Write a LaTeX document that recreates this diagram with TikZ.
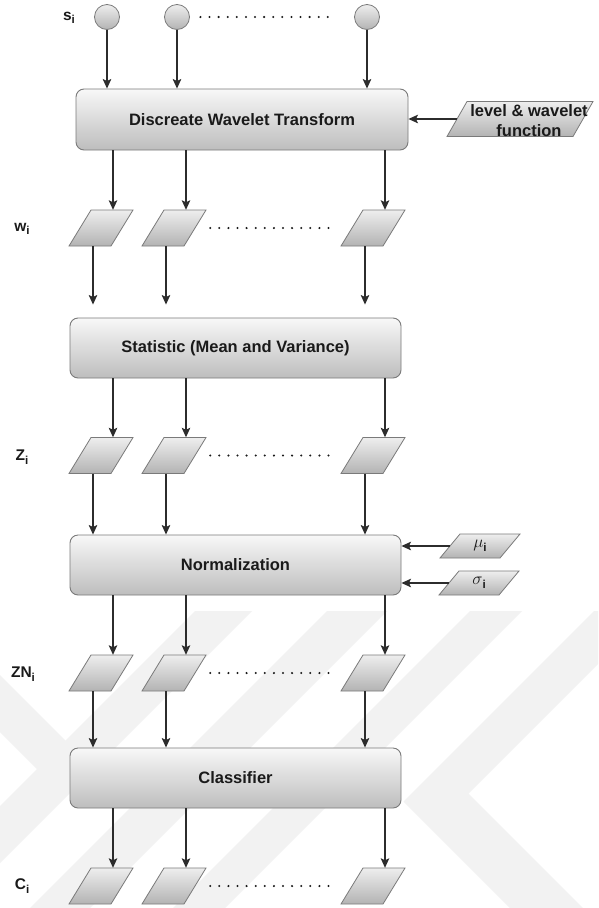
\documentclass[tikz,border=0pt]{standalone}
\usepackage{fontspec}
\setmainfont{Liberation Sans}
\usetikzlibrary{arrows.meta,calc}

\definecolor{wmark}{HTML}{F2F2F2}
\definecolor{boxtop}{HTML}{F8F8F8}
\definecolor{boxbot}{HTML}{BDBDBD}
\definecolor{boxline}{HTML}{7A7A7A}
\definecolor{partop}{HTML}{EEEEEE}
\definecolor{parbot}{HTML}{B3B3B3}
\definecolor{ink}{HTML}{1A1A1A}
\definecolor{wire}{HTML}{2C2C2C}

% bold subscript "i" used by every label
\newcommand{\subi}{\raisebox{-3.5pt}{\fontsize{11.5}{12}\selectfont\bfseries i}}

% slanted data box: name, centre x, centre y, edge width, height, slant, text
\newcommand{\flowpara}[7]{%
  \shadedraw[parashape]
    ({#2-(#4+#6)/2+#6},{#3-#5/2}) -- ({#2+(#4+#6)/2},{#3-#5/2}) --
    ({#2+(#4+#6)/2-#6},{#3+#5/2}) -- ({#2-(#4+#6)/2},{#3+#5/2}) -- cycle;
  \node[parabody, minimum width={#4+#6}, minimum height={#5}] (#1) at (#2,#3) {#7};}

\begin{document}
\begin{tikzpicture}[x=1pt,y=-1pt,
  stage/.style={rectangle, rounded corners=8pt, draw=boxline, line width=0.9pt,
    top color=boxtop, bottom color=boxbot, text=ink,
    font=\fontsize{16.5}{20}\selectfont\bfseries},
  src/.style={circle, minimum size=25pt, inner sep=0pt, draw=boxline, line width=0.8pt,
    top color=partop, bottom color=parbot},
  parashape/.style={draw=boxline, line width=0.8pt, top color=partop, bottom color=parbot},
  parabody/.style={rectangle, inner sep=0pt, text=ink},
  arr/.style={draw=wire, line width=1.1pt, -{Stealth[length=9.5pt,width=8.5pt,inset=2pt]}},
  dotrow/.style={draw=ink, line width=2.3pt, line cap=round, dash pattern=on 0pt off 9.1pt},
  rowlabel/.style={text=ink, font=\fontsize{15.5}{18}\selectfont\bfseries},
  boxtext/.style={text=ink, align=center, font=\fontsize{16.5}{20}\selectfont\bfseries}]

\useasboundingbox (0,0) rectangle (598,908);
\fill[white] (0,0) rectangle (598,908);

% faint background emblem
\fill[wmark] (195,611) -- (252,611) -- (0,863) -- (0,806) -- cycle;
\fill[wmark] (0,675) -- (94,769) -- (37,769) -- (0,732) -- cycle;
\fill[wmark] (327,611) -- (387,611) -- (90,908) -- (30,908) -- cycle;
\fill[wmark] (470,611) -- (522,611) -- (225,908) -- (173,908) -- cycle;
\fill[wmark] (594,611) -- (598,611) -- (598,664) -- (468.5,793.5) -- (583,908)
  -- (510,908) -- (403.5,801.5) -- cycle;

% signal sources
\node[src] (s1) at (107,17) {};
\node[src] (s2) at (177,17) {};
\node[src] (s3) at (367,17) {};
\draw[dotrow, shorten <=10.5pt, shorten >=19.5pt] (s2.east) -- (s3.west);

% processing stages
\node[stage, minimum width=332pt, minimum height=61pt] (dwt) at (242,119.5) {Discreate Wavelet Transform};
\node[stage, minimum width=331pt, minimum height=60pt] (stat) at (235.5,348) {Statistic (Mean and Variance)};
\node[stage, minimum width=331pt, minimum height=60pt] (norm) at (235.5,565) {Normalization};
\node[stage, minimum width=331pt, minimum height=60pt] (cls) at (235.5,778) {Classifier};

% side inputs
\flowpara{lvl}{520}{119}{126}{35}{20}{}
\node[boxtext] (lvltxt) at (529,121) {level \& wavelet\\function};
\flowpara{mu}{480}{546}{60}{24}{20}{{\fontsize{17}{18}\selectfont$\mu$\subi}}
\flowpara{sg}{479}{583}{60}{24}{20}{{\fontsize{17}{18}\selectfont$\sigma$\subi}}

\coordinate (lvltail) at ($(lvl.west)+(10,0)$);
\coordinate (mutail) at ($(mu.west)+(10,0)$);
\coordinate (sgtail) at ($(sg.west)+(10,0)$);
\draw[arr] (lvltail) -- (lvltail -| dwt.east);
\draw[arr] (mutail) -- (mutail -| norm.east);
\draw[arr] (sgtail) -- (sgtail -| norm.east);

% data rows
\foreach \r/\y in {w/228, z/455.5, n/673, o/886} {
  \foreach \k/\x in {1/101, 2/174, 3/373} {
    \flowpara{\r\k}{\x}{\y}{42}{36}{22}{}
    \coordinate (\r\k top) at ($(\r\k.north)+(12,0)$);
    \coordinate (\r\k bot) at ($(\r\k.south)+(-8,0)$);
  }
  \draw[dotrow, shorten <=4pt, shorten >=4pt] (\r2.east) -- (\r3.west);
}

% row labels
\node[rowlabel] (ls) at (69,18) {s\subi};
\node[rowlabel] (lw) at (22,229) {w\subi};
\node[rowlabel] (lz) at (22,457) {Z\subi};
\node[rowlabel] (lzn) at (23,674) {ZN\subi};
\node[rowlabel] (lc) at (22,886) {C\subi};

% connectors
\foreach \k in {1,2,3} {
  \draw[arr] (s\k.south) -- (s\k.south |- dwt.north);
  \draw[arr] (w\k top |- dwt.south) -- (w\k top);
  \draw[arr, shorten >=13pt] (w\k bot) -- (w\k bot |- stat.north);
  \draw[arr] (z\k top |- stat.south) -- (z\k top);
  \draw[arr] (z\k bot) -- (z\k bot |- norm.north);
  \draw[arr] (n\k top |- norm.south) -- (n\k top);
  \draw[arr] (n\k bot) -- (n\k bot |- cls.north);
  \draw[arr] (o\k top |- cls.south) -- (o\k top);
}
\end{tikzpicture}
\end{document}
